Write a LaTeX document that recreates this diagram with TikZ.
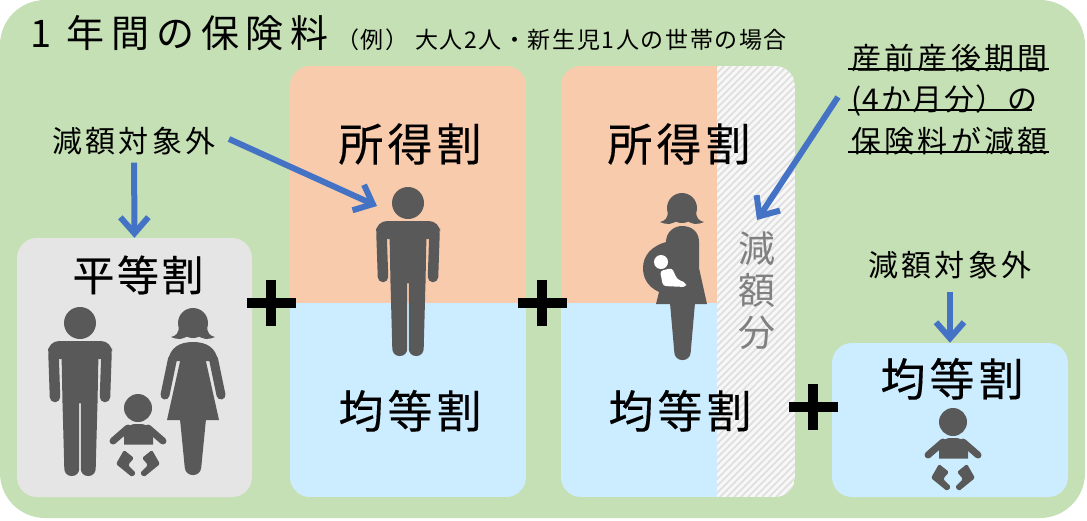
\documentclass[tikz,border=0pt]{standalone}
\usepackage{fontspec}
\setmainfont{Noto Sans CJK JP}
\usepackage{tikz}
\usetikzlibrary{arrows.meta}
\definecolor{bggreen}{HTML}{C5E0B4}
\definecolor{boxgray}{HTML}{E5E5E5}
\definecolor{boxpeach}{HTML}{F8CBAD}
\definecolor{boxblue}{HTML}{CCECFF}
\definecolor{arrowblue}{HTML}{4472C4}
\definecolor{figgray}{HTML}{595959}
\def\jpfont#1#2{\fontsize{#1}{#1}\selectfont\addfontfeature{LetterSpace=#2}}
\def\jpfontbold#1#2{\fontsize{#1}{#1}\selectfont\addfontfeature{LetterSpace=#2, FakeBold=0.3}}
\tikzset{
	lbl/.style={inner sep=0pt, text depth=0pt},
	lblsmall/.style={lbl, text height=23pt, font=\jpfont{30}{11}},
	lblbig/.style={lbl, text height=34pt, font=\jpfontbold{45}{9}},
	lblmid/.style={lbl, text height=32pt, font=\jpfontbold{42}{6}},
	notelbl/.style={lbl, text height=23pt, anchor=west, font=\jpfont{30}{11}},
	noteline/.style={line width=2pt},
	bluearrow/.style={draw=arrowblue, line width=6pt, -{Straight Barb[length=16pt, width=28pt, line width=6pt]}},
	plusbar/.style={line width=10pt},
	figfill/.style={fill=figgray},
	figline/.style={draw=figgray, line width=10.5pt, line cap=round}
}
% figures, origin at the centre of the head
\def\hairfig{
	\fill[figfill] (0, 0) circle (15pt);
	\fill[figfill] (-14, 3) .. controls (-14, 10) and (-17, 13) .. (-22, 14) .. controls (-16, 17) and (-8, 17) .. (-4, 11) -- (4, 11) .. controls (8, 17) and (16, 17) .. (22, 14) .. controls (17, 13) and (14, 10) .. (14, 3) -- cycle;
}
\def\manfig(#1){\begin{scope}[shift={(#1)}]
	\fill[figfill] (0, 0) circle (16pt);
	\fill[figfill, rounded corners=11pt] (-32, 36) -- (-32, 18) -- (32, 18) -- (32, 36) -- cycle;
	\draw[figline] (-26.5, 30) -- (-25, 74);
	\draw[figline] (26.5, 30) -- (25, 74);
	\fill[figfill] (-18.5, 30) -- (18.5, 30) -- (17.5, 80) -- (-17.5, 80) -- cycle;
	\fill[figfill] (-17.5, 79) [rounded corners=7pt] -- (-15.5, 153) -- (-0.8, 153) [sharp corners] -- (-0.8, 80) -- (0.8, 80) [rounded corners=7pt] -- (0.8, 153) -- (15.5, 153) [sharp corners] -- (17.5, 79) -- cycle;
\end{scope}}
\def\womanfig(#1){\begin{scope}[shift={(#1)}]
	\hairfig
	\fill[figfill] (-25, 38) .. controls (-23, 25) and (-14, 19) .. (0, 19) .. controls (14, 19) and (23, 25) .. (25, 38) -- cycle;
	\draw[figline, line width=9pt] (-20.5, 36) -- (-28, 72);
	\draw[figline, line width=9pt] (20.5, 36) -- (28, 72);
	\fill[figfill] (-12, 34) -- (12, 34) -- (26, 97) -- (-26, 97) -- cycle;
	\fill[figfill] (-13, 96) [rounded corners=7pt] -- (-7.5, 152) -- (7.5, 152) [sharp corners] -- (13, 96) -- cycle;
\end{scope}}
\def\pregfig(#1){\begin{scope}[shift={(#1)}]
	\hairfig
	\fill[figfill] (-26, 96) -- (-23, 84) .. controls (-36, 78) and (-39, 68) .. (-39, 60) .. controls (-39, 47) and (-30, 38) .. (-16, 34) .. controls (-16, 24) and (-8, 18) .. (0, 18) .. controls (10, 18) and (17, 24) .. (17, 34) -- (17, 60) -- (25, 96) -- cycle;
	\fill[figfill] (-12, 95) [rounded corners=7pt] -- (-7, 152) -- (8, 152) [sharp corners] -- (13, 95) -- cycle;
	\fill[white] (-21, 54) circle (7pt);
	\fill[white, rounded corners=3pt] (-22, 63) -- (-19, 78) -- (4, 79) -- (4, 75) -- (-5, 71) -- (-10, 60) -- cycle;
\end{scope}}
\def\babyfig(#1){\begin{scope}[shift={(#1)}]
	\fill[figfill] (0, 0) circle (14pt);
	\fill[figfill] (-14, 36.5) -- (-14, 24) [rounded corners=6pt] -- (-9, 16) -- (9, 16) [sharp corners] -- (15, 24) -- (15, 36.5) -- cycle;
	\draw[figline, line width=7pt] (-10, 20) -- (-25, 33);
	\draw[figline, line width=7pt] (10, 20) -- (25, 33);
	\fill[figfill, rounded corners=1.5pt] (-14, 42) -- (-4, 50) -- (-10, 57) -- (-2, 65) -- (-6, 69) -- (-22, 56) -- cycle;
	\fill[figfill, rounded corners=1.5pt] (14, 42) -- (4, 50) -- (10, 57) -- (2, 65) -- (6, 69) -- (22, 56) -- cycle;
\end{scope}}

\begin{document}
\begin{tikzpicture}[x=1pt, y=-1pt]
	\useasboundingbox (0, 0) rectangle (1087, 520);
	%%%%% BACKGROUND %%%%%
	\fill[bggreen, rounded corners=45pt] (0, 0) rectangle (1085, 518);
	
	%%%%% BOXES %%%%%
	\node[fill=boxgray, rounded corners=20pt, minimum width=235pt, minimum height=259pt, inner sep=0pt] (flatbox) at (134.5, 367.5) {};
	\node[fill=boxblue, rounded corners=20pt, minimum width=236pt, minimum height=154pt, inner sep=0pt] (childbox) at (950, 420) {};
	\begin{scope}
		\clip[rounded corners=20pt] (290, 66) rectangle (526, 497);
		\fill[boxpeach] (290, 66) rectangle (526, 303);
		\fill[boxblue] (290, 303) rectangle (526, 497);
	\end{scope}
	\begin{scope}
		\clip[rounded corners=20pt] (561, 66) rectangle (795, 497);
		\fill[white!97!black] (717, 66) rectangle (795, 497);
		\foreach \i in {286,293,...,800} {
			\draw[black!13, line width=1.6pt] (\i, 497) -- (\i+431, 66);
		}
		\fill[boxpeach] (561, 66) rectangle (717, 303);
		\fill[boxblue] (561, 303) rectangle (717, 497);
	\end{scope}
	
	%%%%% FIGURES %%%%%
	\manfig(80, 323)
	\womanfig(193, 323)
	\babyfig(138, 408)
	\manfig(408, 203)
	\pregfig(682, 208)
	\babyfig(953, 422)
	
	%%%%% PLUS %%%%%
	\foreach \px/\py in {271/303, 542/303, 813/407} {
		\draw[plusbar] (\px-24.5, \py) -- (\px+24.5, \py);
		\draw[plusbar] (\px, \py-23) -- (\px, \py+23);
	}
	
	%%%%% TEXT %%%%%
	\node[lbl, text height=29pt, anchor=west, font=\jpfont{38}{18}] (title) at (30, 33) {1 年間の保険料};
	\node[lbl, text height=17pt, anchor=west, font=\jpfont{23}{7}] (subtitle) at (336, 40) {（例） 大人2人・新生児1人の世帯の場合};
	\node[lblsmall] (exemptA) at (134, 141) {減額対象外};
	\node[lblsmall] (exemptB) at (950, 265) {減額対象外};
	\node[lblmid] (flatlbl) at (138, 275) {平等割};
	\node[lblbig] (incomeA) at (410, 144) {所得割};
	\node[lblbig] (incomeB) at (679, 144) {所得割};
	\node[lblbig] (perheadA) at (410, 411) {均等割};
	\node[lblbig] (perheadB) at (680, 411) {均等割};
	\node[lblbig] (perheadC) at (952, 379) {均等割};
	\node[inner sep=0pt, align=center, text=black!50, font=\fontsize{37}{42}\selectfont] (reduced) at (757, 291) {減\\額\\分};
	\node[notelbl] (noteA) at (851, 58) {産前産後期間};
	\node[notelbl, font=\jpfont{30}{5}] (noteB) at (851, 99) {(4か月分）の};
	\node[notelbl] (noteC) at (851, 141) {保険料が減額};
	\draw[noteline] (848, 69) -- (1049, 69);
	\draw[noteline] (848, 110) -- (1032, 110);
	\draw[noteline] (848, 152) -- (1049, 152);
	
	%%%%% ARROWS %%%%%
	\coordinate (startman) at (229, 139);
	\coordinate (tipman) at (377, 206);
	\coordinate (startpreg) at (838, 97);
	\coordinate (tippreg) at (757, 220);
	\draw[bluearrow, shorten <=10pt] (exemptA.south) -- (flatbox.north);
	\draw[bluearrow] (startman) -- (tipman);
	\draw[bluearrow] (startpreg) -- (tippreg);
	\draw[bluearrow, shorten <=15pt] (exemptB.south) -- (childbox.north);
\end{tikzpicture}
\end{document}
